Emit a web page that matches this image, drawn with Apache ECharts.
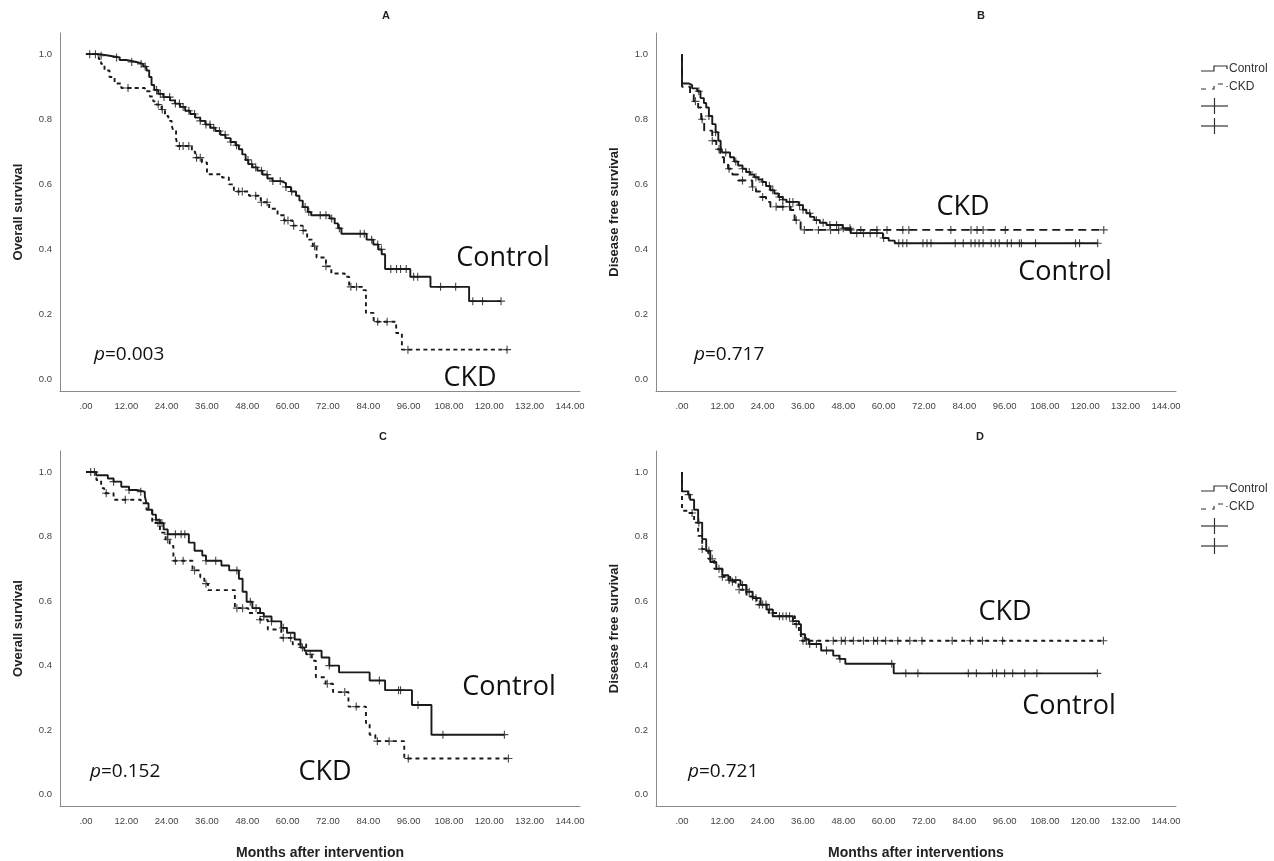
<!DOCTYPE html>
<html><head><meta charset="utf-8">
<script src="https://cdn.jsdelivr.net/npm/echarts@6/dist/echarts.min.js"></script>
<style>html,body{margin:0;padding:0;background:#fff}#c{width:1274px;height:861px}</style>
</head><body><div id="c"></div>
<script>
// ---------- data ----------
const xTicks = [0, 12, 24, 36, 48, 60, 72, 84, 96, 108, 120, 132, 144];
const yTicks = [0, 0.2, 0.4, 0.6, 0.8, 1.0];
const panelTitles = ['A', 'B', 'C', 'D'];
const yNames = ['Overall survival', 'Disease free survival', 'Overall survival', 'Disease free survival'];
const xNames = ['', '', 'Months after intervention', 'Months after interventions'];
const groupNames = ['Control', 'CKD'];
const pValues = ['0.003', '0.717', '0.152', '0.721'];

// Panel A – overall survival (step points: [month, survival])
const ctrlA = [[0,1],[4,0.995],[7,0.99],[10,0.982],[12,0.976],[15,0.97],[17,0.962],[18,0.95],[18.8,0.93],[19.5,0.905],[20.3,0.89],[21.5,0.878],[23,0.868],[25,0.858],[26.5,0.848],[28,0.838],[29.5,0.826],[31,0.816],[32.5,0.805],[34,0.795],[35.5,0.784],[37,0.774],[38.5,0.764],[40,0.752],[41.5,0.742],[43,0.73],[44.5,0.72],[45.5,0.708],[46.5,0.692],[47.5,0.675],[48.3,0.662],[49.5,0.652],[51,0.642],[52.5,0.63],[54,0.618],[55.5,0.61],[58,0.604],[59.5,0.592],[61,0.578],[62.5,0.565],[63.5,0.55],[64.5,0.53],[66,0.515],[67,0.505],[72.5,0.495],[74,0.48],[75,0.465],[76,0.448],[83.5,0.43],[85.5,0.415],[87,0.4],[88,0.385],[89,0.34],[96.5,0.316],[102.5,0.285],[114,0.241],[123.5,0.241]];
const ckdA = [[0,1],[3.8,0.985],[4.5,0.97],[5.5,0.95],[7,0.93],[8.5,0.91],[10.5,0.896],[17.5,0.886],[19,0.87],[20,0.855],[21,0.845],[22.5,0.83],[23.5,0.81],[24.5,0.795],[25.5,0.78],[26,0.764],[26.8,0.74],[27.3,0.718],[31.5,0.7],[32.5,0.682],[34.5,0.667],[36,0.631],[40.5,0.621],[42.5,0.6],[44,0.578],[48.5,0.565],[52,0.545],[54.5,0.525],[57,0.505],[59,0.489],[61.5,0.473],[64.5,0.458],[65.8,0.43],[67.5,0.41],[68.6,0.375],[71.4,0.348],[73,0.326],[77,0.316],[78.3,0.285],[82.5,0.275],[83.3,0.205],[85.6,0.178],[92.3,0.143],[94,0.092],[125.3,0.092]];
const ctrlACens = [1.1,2.8,4.5,9.1,13.6,16.4,17.6,21,22.1,23.2,24.9,26.6,27.8,28.9,30.6,32.3,34,35.7,36.9,38,39.7,41.4,43.1,44.8,48.2,49.3,50.5,52.2,53.9,55.6,57.8,59.5,61.2,65.2,66.3,69.7,71.4,73.1,75.4,81.6,82.8,85,86.8,87.9,90.7,92.4,93.6,95.3,97.5,98.7,105.5,110,115.1,118,123.5];
const ckdACens = [12.5,21.5,22.7,27.8,28.9,30.6,32.9,34,45.4,46.5,50.5,52.2,53.9,59,60.1,61.8,64.6,68,71.4,78.8,80.5,86.8,89.6,95.8,125.3];

// Panel B – disease free survival
const ctrlB = [[0,1],[0,0.91],[2,0.905],[3,0.895],[4.5,0.886],[5.5,0.865],[6.5,0.85],[7.2,0.836],[8,0.81],[9,0.785],[10,0.76],[10.8,0.734],[11.5,0.715],[12,0.698],[14.3,0.683],[15.5,0.67],[16.7,0.658],[18,0.648],[19.1,0.638],[20.3,0.63],[21.5,0.622],[22.7,0.615],[23.9,0.607],[25,0.595],[26.3,0.582],[27.5,0.572],[28.7,0.561],[30,0.553],[31.1,0.546],[34.7,0.536],[36,0.522],[37,0.511],[38.2,0.5],[39.4,0.49],[41,0.482],[43,0.475],[47.8,0.465],[50.2,0.45],[59.8,0.435],[61.5,0.427],[63.3,0.419],[123.7,0.419]];
const ckdB = [[0,1],[0,0.9],[2.4,0.876],[3.5,0.855],[4.8,0.836],[5.7,0.8],[6.6,0.765],[9,0.734],[10.2,0.708],[11.4,0.683],[12.5,0.665],[13.7,0.648],[15,0.63],[16.7,0.612],[20.9,0.592],[22,0.578],[23.3,0.561],[25,0.546],[26.3,0.531],[32.3,0.521],[33.5,0.49],[35.3,0.46],[125.5,0.46]];
const ctrlBCens = [5,8,10,13,16,18,20,22,24,26,27,29,30,32,33,35,36,38,40,42,44,46,48,50,52,54,56,58,60,64.5,65.7,66.9,71.7,72.9,74.1,81.3,83.7,86,87.2,88.4,89.6,92,93.2,94.4,96.8,98,100.4,101,105.2,117.1,118.3,123.7];
const ckdBCens = [4,6,9,11,14,18,21,24,28,30,32,34,36.4,40.6,44.2,46.6,50.2,53.2,58,61,65.7,67.5,80,86,87.8,89.6,96.2,125.5];

// Panel C – overall survival
const ctrlC = [[0,1],[3,0.99],[6.5,0.98],[8.2,0.97],[10.5,0.954],[12.8,0.944],[15.1,0.939],[17.5,0.925],[18,0.903],[18.6,0.883],[19.7,0.868],[20.8,0.852],[22,0.842],[23.1,0.822],[24.3,0.807],[30.6,0.781],[32.3,0.756],[34.6,0.741],[35.7,0.725],[40.3,0.71],[42.6,0.695],[45.5,0.669],[46.6,0.629],[47.8,0.598],[49.5,0.578],[51.8,0.563],[52.9,0.552],[55.2,0.537],[58.1,0.517],[59.8,0.502],[62.1,0.481],[63.8,0.456],[65,0.446],[70.1,0.425],[72.4,0.4],[75.3,0.379],[84.4,0.354],[89,0.324],[97,0.278],[102.8,0.186],[124.5,0.186]];
const ckdC = [[0,1],[3.1,0.975],[4.5,0.95],[5.4,0.934],[8.2,0.914],[16.3,0.903],[18,0.883],[19.7,0.842],[22,0.812],[23.7,0.791],[24.9,0.771],[26,0.725],[31.7,0.695],[34,0.674],[35.2,0.654],[36.3,0.634],[44.3,0.578],[48.3,0.563],[51.8,0.542],[54.1,0.512],[58.1,0.486],[61.5,0.466],[65.5,0.435],[67.2,0.415],[68.4,0.364],[71.3,0.344],[73.5,0.318],[78.1,0.273],[83.3,0.222],[84.4,0.186],[86.1,0.166],[94.7,0.112],[125.7,0.112]];
const ctrlCCens = [1.4,2.5,8.2,12.8,16.3,20.8,22,22.6,24.3,26.6,28.3,29.4,35.7,38.6,44.9,48.9,50.6,52.9,55.2,58.7,64.4,72.4,87.3,93,93.6,98.8,106.2,124.5];
const ckdCCens = [6,11.7,21.4,24.3,26.6,28.9,32.3,35.7,44.9,46.6,51.8,58.7,60.9,66.7,71.8,77,80.4,86.7,90.2,95.9,125.7];

// Panel D – disease free survival
const ctrlD = [[0,1],[0,0.94],[1.8,0.93],[2.4,0.914],[3.6,0.883],[4.8,0.843],[6,0.792],[7.2,0.756],[8.4,0.721],[10.2,0.7],[12,0.68],[13.8,0.665],[17.4,0.65],[19.2,0.629],[21,0.609],[23.4,0.589],[25.2,0.574],[27,0.553],[33,0.538],[34.8,0.528],[35.4,0.497],[36.6,0.482],[37.8,0.467],[41.4,0.447],[45,0.431],[46.8,0.421],[48.6,0.406],[63,0.376],[123.6,0.376]];
const ckdD = [[0,1],[0,0.88],[1.8,0.873],[3.6,0.843],[4.8,0.802],[6,0.761],[7.8,0.731],[9.6,0.7],[12,0.675],[14.4,0.66],[16.8,0.635],[19.2,0.614],[22.2,0.589],[25.8,0.563],[28.8,0.553],[33.6,0.528],[34.8,0.497],[35.4,0.477],[125.4,0.477]];
const ctrlDCens = [2,5,8,11,14,16,18,20,22,24,26,29,31,33,38,40,43,47,62.4,66.6,70.2,85.2,87.6,92.4,93.6,96,98.4,102,105.6,123.6];
const ckdDCens = [3,6,9,12,15,17,19,21,23,25,27,30,32,34,36,37,45,47.4,48.6,51,54,57,58.2,60.6,64.2,67.8,71.4,80.4,85.8,89.4,95.4,125.4];

// ---------- build ----------
const curves = [
  {ctrl: ctrlA, ckd: ckdA, ctrlCens: ctrlACens, ckdCens: ckdACens, dash: [4, 3.5]},
  {ctrl: ctrlB, ckd: ckdB, ctrlCens: ctrlBCens, ckdCens: ckdBCens, dash: [8, 5]},
  {ctrl: ctrlC, ckd: ckdC, ctrlCens: ctrlCCens, ckdCens: ckdCCens, dash: [4, 4]},
  {ctrl: ctrlD, ckd: ckdD, ctrlCens: ctrlDCens, ckdCens: ckdDCens, dash: [4, 4]}
];
function survAt(curve, t) {
  let s = curve[0][1];
  for (const p of curve) { if (p[0] <= t) s = p[1]; else break; }
  return s;
}
const grids = [
  {left: 60, top: 33, width: 520, height: 358},
  {left: 656, top: 33, width: 520, height: 358},
  {left: 60, top: 451, width: 520, height: 358},
  {left: 656, top: 451, width: 520, height: 358}
];
const INK = '#1a1a1a';
const FONT = '"Liberation Sans", Arial, sans-serif';
const plus = 'path://M0,4.3H10V5.7H0Z M4.3,0H5.7V10H4.3Z';

const xAxis = [], yAxis = [], series = [];
grids.forEach((g, i) => {
  xAxis.push({
    gridIndex: i, type: 'value', min: -7.74, max: 147,
    name: xNames[i], nameLocation: 'middle', nameGap: 40,
    nameTextStyle: {fontFamily: FONT, fontWeight: 'bold', fontSize: 14, color: '#222'},
    axisLine: {onZero: false, lineStyle: {color: '#8a8a8a', width: 1}},
    axisTick: {show: false}, splitLine: {show: false},
    axisLabel: {customValues: xTicks, fontFamily: FONT, fontSize: 9.5, color: '#444', margin: 10,
      formatter: v => v === 0 ? '.00' : v.toFixed(2)}
  });
  yAxis.push({
    gridIndex: i, type: 'value', min: -0.035, max: 1.065,
    name: yNames[i], nameLocation: 'middle', nameGap: 35,
    nameTextStyle: {fontFamily: FONT, fontWeight: 'bold', fontSize: 13, color: '#222'},
    axisLine: {show: true, onZero: false, lineStyle: {color: '#8a8a8a', width: 1}},
    axisTick: {show: false}, splitLine: {show: false},
    axisLabel: {customValues: yTicks, fontFamily: FONT, fontSize: 9.5, color: '#444', margin: 8,
      formatter: v => v.toFixed(1)}
  });
  const c = curves[i];
  series.push({type: 'line', name: groupNames[0], xAxisIndex: i, yAxisIndex: i, data: c.ctrl, step: 'end',
    showSymbol: false, silent: true, lineStyle: {color: INK, width: 1.9}});
  series.push({type: 'line', name: groupNames[1], xAxisIndex: i, yAxisIndex: i, data: c.ckd, step: 'end',
    showSymbol: false, silent: true, lineStyle: {color: INK, width: 1.9, type: c.dash}});
  series.push({type: 'scatter', xAxisIndex: i, yAxisIndex: i, symbol: plus, symbolSize: 8, silent: true,
    itemStyle: {color: INK}, data: c.ctrlCens.map(t => [t, survAt(c.ctrl, t)])});
  series.push({type: 'scatter', xAxisIndex: i, yAxisIndex: i, symbol: plus, symbolSize: 8, silent: true,
    itemStyle: {color: INK}, data: c.ckdCens.map(t => [t, survAt(c.ckd, t)])});
});

// text annotations
const ann = [
  {title: [386, 16], ctrl: [503, 258], ckd: [470, 378], p: [94, 355]},
  {title: [981, 16], ctrl: [1065, 272], ckd: [963, 207], p: [694, 355]},
  {title: [383, 437], ctrl: [509, 687], ckd: [325, 772], p: [90, 772]},
  {title: [980, 437], ctrl: [1069, 706], ckd: [1005, 612], p: [688, 772]}
];
const BIG = '"Open Sans", "Noto Sans", sans-serif';
const graphic = [];
ann.forEach((a, i) => {
  graphic.push({type: 'text', x: a.title[0], y: a.title[1], style: {text: panelTitles[i], font: 'bold 11px ' + FONT, fill: '#222', align: 'center', verticalAlign: 'middle'}});
  graphic.push({type: 'text', x: a.ctrl[0], y: a.ctrl[1], style: {text: groupNames[0], font: '27px ' + BIG, fill: '#111', align: 'center', verticalAlign: 'middle'}});
  graphic.push({type: 'text', x: a.ckd[0], y: a.ckd[1], style: {text: groupNames[1], font: '27px ' + BIG, fill: '#111', align: 'center', verticalAlign: 'middle'}});
  graphic.push({type: 'text', x: a.p[0], y: a.p[1], style: {text: '{i|p}=' + pValues[i], font: '19px ' + BIG, fill: '#111', verticalAlign: 'middle',
    rich: {i: {fontStyle: 'italic', fontFamily: BIG, fontSize: 19, fill: '#111'}}}});
});
// legends (right of panels B and D)
[69, 489].forEach(y0 => {
  graphic.push({type: 'polyline', shape: {points: [[1201, y0 + 2], [1214, y0 + 2], [1214, y0 - 3], [1227, y0 - 3], [1227, y0]]}, style: {stroke: '#333', lineWidth: 1.2, fill: null}});
  graphic.push({type: 'text', x: 1229, y: y0, style: {text: groupNames[0], font: '12px ' + FONT, fill: '#333', verticalAlign: 'middle'}});
  const y1 = y0 + 18;
  graphic.push({type: 'polyline', shape: {points: [[1201, y1 + 2], [1214, y1 + 2], [1214, y1 - 3], [1227, y1 - 3], [1227, y1]]}, style: {stroke: '#333', lineWidth: 1.2, fill: null, lineDash: [5, 6]}});
  graphic.push({type: 'text', x: 1229, y: y1, style: {text: groupNames[1], font: '12px ' + FONT, fill: '#333', verticalAlign: 'middle'}});
  [y0 + 37, y0 + 57].forEach(yy => {
    graphic.push({type: 'line', shape: {x1: 1201, y1: yy, x2: 1228, y2: yy}, style: {stroke: '#333', lineWidth: 1.2}});
    graphic.push({type: 'line', shape: {x1: 1214.5, y1: yy - 8, x2: 1214.5, y2: yy + 8}, style: {stroke: '#333', lineWidth: 1.2}});
  });
});

const chart = echarts.init(document.getElementById('c'), null, {renderer: 'canvas'});
chart.setOption({
  animation: false,
  backgroundColor: '#fff',
  grid: grids,
  xAxis, yAxis, series, graphic
});
</script></body></html>
